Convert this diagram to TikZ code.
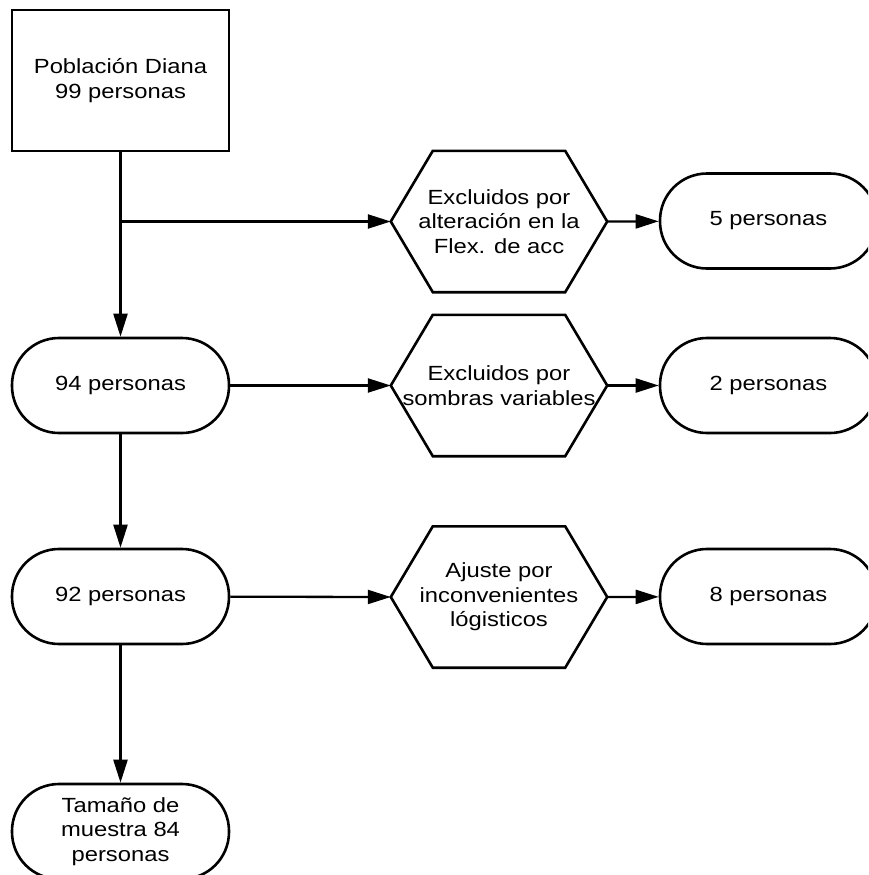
\documentclass[tikz,border=0pt]{standalone}
\usepackage{fontspec}
\setmainfont{Liberation Sans}[FakeStretch=1.16]
\usetikzlibrary{arrows.meta}

\begin{document}
\begin{tikzpicture}[x=1pt,y=-1pt,
  texto/.style={align=center, font=\fontsize{20.5}{24.5}\selectfont},
  caja/.style={texto, draw, line width=2.6pt, minimum width=217pt, minimum height=141pt},
  pastilla/.style={texto, draw, line width=2.6pt, rounded corners=47pt, minimum width=217pt, minimum height=95pt},
  hexa/.style={texto, minimum width=216pt, minimum height=141pt, inner sep=0pt},
  linea/.style={line width=2.6pt, line join=miter},
  flecha/.style={line width=2.3pt, -{Triangle[length=23pt,width=14pt]}}]

  % Marco
  \useasboundingbox (0,0) rectangle (868,875);
  \clip (0,0) rectangle (868,875);

  % Columna izquierda
  \node[caja]     (diana) at (120.5,80.5)  {Población Diana\\99 personas};
  \node[pastilla] (p94)   at (120.5,385.5) {94 personas};
  \node[pastilla] (p92)   at (120.5,596.5) {92 personas};
  \node[pastilla] (p84)   at (120.5,831.5) {Tamaño de\\muestra 84\\personas};

  % Criterios de exclusion
  \node[hexa] (h1) at (499,221.5) {Excluidos por\\alteración en la\\Flex. de acc};
  \node[hexa] (h2) at (499,385.5) {Excluidos por\\sombras variables};
  \node[hexa] (h3) at (499,597)   {Ajuste por\\inconvenientes\\lógisticos};
  \foreach \h in {h1,h2,h3}
    \draw[linea] (\h.west) -- ([xshift=42pt]\h.north west) -- ([xshift=-42pt]\h.north east)
      -- (\h.east) -- ([xshift=-42pt]\h.south east) -- ([xshift=42pt]\h.south west) -- cycle;

  % Excluidos
  \node[pastilla] (p5) at (768.5,221)   {5 personas};
  \node[pastilla] (p2) at (768.5,385.5) {2 personas};
  \node[pastilla] (p8) at (768.5,596.5) {8 personas};

  % Flechas
  \coordinate (rama) at (diana.south |- h1.west);
  \draw[flecha] (diana) -- (p94);
  \draw[flecha] (rama) -- (h1.west);
  \draw[flecha] (p94) -- (p92);
  \draw[flecha] (p92) -- (p84);
  \draw[flecha] (p94) -- (h2.west);
  \draw[flecha] (p92) -- (h3.west);
  \draw[flecha] (h1.east) -- (p5);
  \draw[flecha] (h2.east) -- (p2);
  \draw[flecha] (h3.east) -- (p8);

\end{tikzpicture}
\end{document}
